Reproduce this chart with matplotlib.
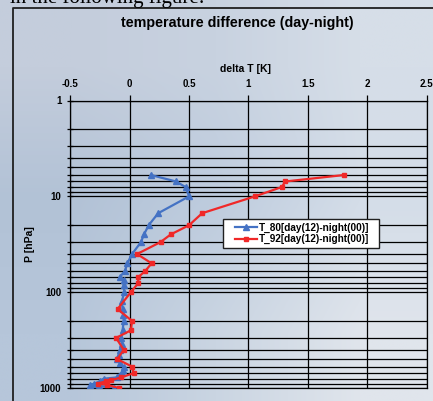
import numpy as np
import matplotlib
matplotlib.use('Agg')
import matplotlib.pyplot as plt
from matplotlib.lines import Line2D
from matplotlib.patches import Rectangle
from matplotlib.ticker import LogLocator, NullFormatter, FixedLocator
from matplotlib.legend_handler import HandlerLine2D

plt.rcParams['font.family'] = ['Liberation Sans', 'DejaVu Sans']

# ---------------- data ----------------
title = "temperature difference (day-night)"
xlabel = "delta T [K]"
ylabel = "P [hPa]"
x_ticks = [-0.5, 0, 0.5, 1, 1.5, 2, 2.5]
x_ticklabels = ["-0.5", "0", "0.5", "1", "1.5", "2", "2.5"]
y_ticks = [1, 10, 100, 1000]
y_ticklabels = ["1", "10", "100", "1000"]
series_labels = ["T_80[day(12)-night(00)]", "T_92[day(12)-night(00)]"]

p_80 = [6, 7, 8, 10, 15, 20, 25, 30, 40, 50, 60, 70, 75, 85, 100, 125, 150,
        175, 200, 250, 300, 350, 400, 450, 500, 550, 600, 650, 700, 750, 775,
        800, 850, 900, 925, 950, 1000]
dT_80 = [0.18, 0.39, 0.47, 0.50, 0.24, 0.16, 0.12, 0.095, 0.02, -0.02, -0.04,
         -0.085, -0.045, -0.052, -0.046, -0.066, -0.06, -0.055, -0.05, -0.06,
         -0.07, -0.066, -0.08, -0.094, -0.108, -0.08, -0.052, -0.06, -0.066,
         -0.09, -0.108, -0.22, -0.25, -0.30, -0.33, -0.26, -0.13]

p_92 = [6, 7, 8, 10, 15, 20, 25, 30, 40, 50, 60, 70, 80, 100, 150, 200, 250,
        300, 400, 500, 600, 700, 775, 830, 850, 900, 925, 1000]
dT_92 = [1.80, 1.31, 1.28, 1.055, 0.61, 0.50, 0.345, 0.26, 0.062, 0.184, 0.132,
         0.07, 0.073, 0.01, -0.102, 0.02, 0.01, -0.115, -0.05, -0.105, 0.022,
         0.032, -0.07, -0.158, -0.20, -0.27, -0.19, -0.094]

# ---------------- figure ----------------
W, H = 433, 401
fig = plt.figure(figsize=(W / 100, H / 100), dpi=100)

# sky-like background
bg = fig.add_axes([0, 0, 1, 1], zorder=-10)
cols = np.array([[[196, 205, 220], [200, 210, 224], [214, 222, 232]],
                 [[178, 194, 214], [190, 204, 222], [212, 221, 232]],
                 [[182, 198, 218], [202, 213, 226], [224, 229, 236]]]) / 255
bg.imshow(cols, aspect='auto', interpolation='bilinear', extent=[0, 1, 0, 1])
bg.set_xlim(0, 1); bg.set_ylim(0, 1)
bg.axis('off')

# text above the framed chart
fig.text(10 / W, 1 - 3 / H, "in the following figure:", family=['Liberation Serif', 'DejaVu Serif'],
         fontsize=15, ha='left', va='baseline')

# outer frame
fig.add_artist(Line2D([12.5 / W, 12.5 / W, 1.05], [-0.05, 1 - 7.5 / H, 1 - 7.5 / H],
                      transform=fig.transFigure, color='#202020', lw=1.3))

ax_l, ax_r, ax_t, ax_b = 70.3, 426.7, 100.5, 388.0
ax = fig.add_axes([ax_l / W, 1 - ax_b / H, (ax_r - ax_l) / W, (ax_b - ax_t) / H])
ax.patch.set_alpha(0)
ax.set_yscale('log')
ax.set_xlim(-0.5, 2.5)
ax.set_ylim(1000, 1)

ax.plot(dT_80, p_80, color='#4472c4', lw=1.6, marker='^', ms=4.2, zorder=3,
        label=series_labels[0])
ax.plot(dT_92, p_92, color='#f02828', lw=1.6, marker='s', ms=3.4, zorder=3,
        label=series_labels[1])

ax.xaxis.set_major_locator(FixedLocator(x_ticks))
ax.set_xticklabels(x_ticklabels, fontweight='bold', fontsize=7)
ax.xaxis.tick_top()
ax.yaxis.set_major_locator(FixedLocator(y_ticks))
ax.yaxis.set_minor_locator(LogLocator(base=10, subs=np.arange(2, 10)))
ax.yaxis.set_minor_formatter(NullFormatter())
ax.set_yticklabels(y_ticklabels, fontweight='bold', fontsize=7)

ax.grid(True, which='major', axis='x', color='black', lw=0.9)
ax.grid(True, which='both', axis='y', color='black', lw=0.9)
ax.set_axisbelow(True)
ax.tick_params(axis='x', which='major', direction='out', length=4, width=0.9, pad=4,
               top=True, bottom=False, labeltop=True, labelbottom=False)
ax.tick_params(axis='y', which='both', direction='inout', length=5, width=0.9, pad=4)
for s in ax.spines.values():
    s.set_color('black'); s.set_linewidth(0.9)

fig.text(246 / W, 1 - 69 / H, xlabel, ha='center', va='center', fontsize=7.5, fontweight='bold')
fig.text(237 / W, 1 - 23 / H, title, ha='center', va='center', fontsize=10.3, fontweight='bold')
fig.text(30 / W, 1 - 244 / H, ylabel, ha='center', va='center', rotation=90,
         fontsize=7.5, fontweight='bold')

# legend box and legend
lx0, ly0, lx1, ly1 = 222.7, 219.3, 379.0, 248.0
ax.add_patch(Rectangle((lx0 / W, 1 - ly1 / H), (lx1 - lx0) / W, (ly1 - ly0) / H,
                       transform=fig.transFigure, facecolor='white', edgecolor='#202020',
                       lw=1.0, zorder=4.5, clip_on=False))
leg = ax.legend(loc='upper left', bbox_to_anchor=(235 / W, 1 - 222.5 / H),
                bbox_transform=fig.transFigure, frameon=False, borderpad=0, borderaxespad=0,
                prop={'weight': 'bold', 'size': 7.2}, handlelength=2.2,
                handletextpad=0.15, labelspacing=0.15)
leg.set_zorder(5)

fig.savefig('out.png', dpi=100)
